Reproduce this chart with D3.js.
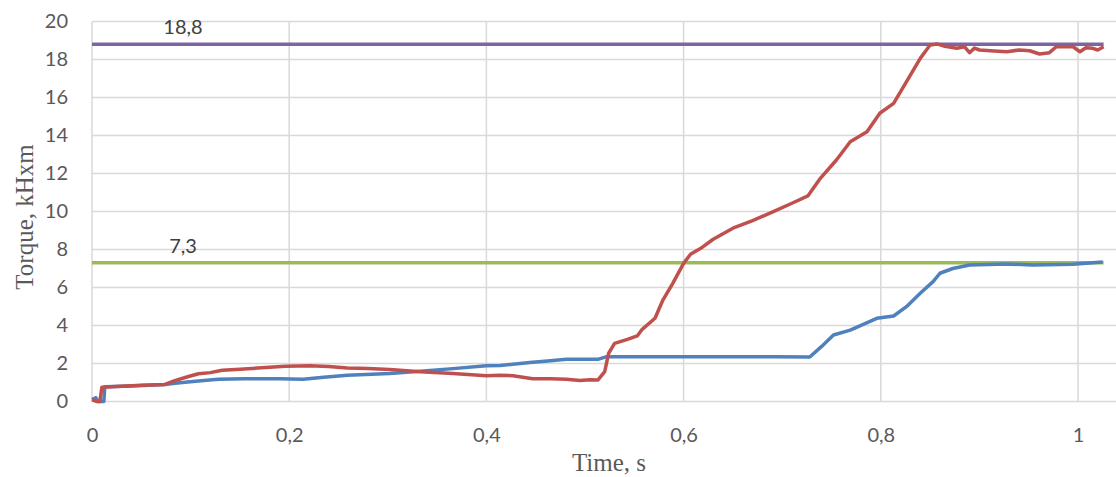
<!DOCTYPE html>
<html>
<head>
<meta charset="utf-8">
<script src="https://cdn.jsdelivr.net/npm/d3@7"></script>
<style>
  body { margin: 0; background: #fff; }
  svg { display: block; }
</style>
</head>
<body>
<div id="chart"></div>
<script>
// values: [time in s, torque]
var redSeries = [
  [0, 0.1], [0.005, 0], [0.008, 0], [0.01, 0.75], [0.03, 0.8], [0.05, 0.85], [0.074, 0.9],
  [0.084, 1.1], [0.097, 1.3], [0.108, 1.46], [0.12, 1.52], [0.132, 1.64], [0.15, 1.7],
  [0.168, 1.76], [0.196, 1.85], [0.221, 1.88], [0.24, 1.84], [0.259, 1.76], [0.28, 1.74],
  [0.302, 1.69], [0.333, 1.57], [0.366, 1.48], [0.4, 1.36], [0.414, 1.38], [0.427, 1.36],
  [0.447, 1.2], [0.465, 1.2], [0.481, 1.17], [0.495, 1.1], [0.505, 1.15], [0.513, 1.13],
  [0.52, 1.57], [0.524, 2.54], [0.53, 3.06], [0.543, 3.27], [0.553, 3.45], [0.558, 3.8],
  [0.571, 4.38], [0.579, 5.34], [0.589, 6.22], [0.6, 7.27], [0.607, 7.75], [0.617, 8.05],
  [0.63, 8.54], [0.65, 9.12], [0.67, 9.52], [0.691, 9.99], [0.711, 10.46], [0.726, 10.82],
  [0.738, 11.7], [0.755, 12.71], [0.769, 13.67], [0.786, 14.2], [0.799, 15.17], [0.813, 15.69],
  [0.819, 16.22], [0.83, 17.18], [0.84, 18.06], [0.85, 18.76], [0.857, 18.82], [0.865, 18.7],
  [0.877, 18.59], [0.885, 18.67], [0.89, 18.36], [0.895, 18.6], [0.9, 18.5], [0.915, 18.45],
  [0.928, 18.41], [0.94, 18.5], [0.951, 18.46], [0.961, 18.29], [0.971, 18.36], [0.978, 18.67],
  [0.995, 18.67], [1.002, 18.41], [1.008, 18.62], [1.015, 18.59], [1.02, 18.5], [1.026, 18.67]
];

var blueSeries = [
  [0, 0.1], [0.004, 0.2], [0.006, 0], [0.012, 0], [0.013, 0.78], [0.04, 0.82], [0.074, 0.9],
  [0.084, 0.96], [0.105, 1.06], [0.128, 1.17], [0.155, 1.2], [0.19, 1.2], [0.214, 1.17],
  [0.235, 1.28], [0.259, 1.38], [0.302, 1.48], [0.333, 1.59], [0.366, 1.73], [0.4, 1.88],
  [0.414, 1.9], [0.444, 2.05], [0.465, 2.15], [0.481, 2.22], [0.513, 2.22], [0.522, 2.36],
  [0.58, 2.36], [0.637, 2.36], [0.69, 2.36], [0.728, 2.34], [0.74, 2.9], [0.752, 3.5],
  [0.769, 3.76], [0.796, 4.38], [0.813, 4.5], [0.826, 4.99], [0.84, 5.7], [0.853, 6.31],
  [0.86, 6.75], [0.873, 7.0], [0.89, 7.18], [0.928, 7.24], [0.954, 7.18], [0.995, 7.22],
  [1.025, 7.34]
];

var refLines = [18.8, 7.3];
var refLabels = ["18,8", "7,3"];
var refColors = ["#8064A2", "#9BBB59"];

var yTicks = [0, 2, 4, 6, 8, 10, 12, 14, 16, 18, 20];
var xTicks = [0, 0.2, 0.4, 0.6, 0.8, 1];

var svgWidth = 1116;
var svgHeight = 477;

var plot = { left: 92, right: 1116, top: 21.5, bottom: 401.5 };

var svg = d3.select("#chart")
  .append("svg")
  .attr("width", svgWidth)
  .attr("height", svgHeight);

// 1.0 s sits at x=1078, plot runs on to the right edge
var xScale = d3.scaleLinear()
  .domain([0, (plot.right - plot.left) / 986])
  .range([plot.left, plot.right]);

var yScale = d3.scaleLinear()
  .domain([0, 20])
  .range([plot.bottom, plot.top]);

var comma = function(v) { return String(v).replace(".", ","); };

// gridlines
svg.append("g")
  .selectAll("line")
  .data(yTicks)
  .enter()
  .append("line")
  .attr("x1", plot.left)
  .attr("x2", plot.right)
  .attr("y1", d => yScale(d))
  .attr("y2", d => yScale(d))
  .attr("stroke", "#d9d9d9")
  .attr("stroke-width", 1.5);

svg.append("g")
  .selectAll("line")
  .data(xTicks)
  .enter()
  .append("line")
  .attr("x1", d => xScale(d))
  .attr("x2", d => xScale(d))
  .attr("y1", plot.top)
  .attr("y2", plot.bottom)
  .attr("stroke", "#d9d9d9")
  .attr("stroke-width", 1.5);

// tick labels
var leftAxis = d3.axisLeft(yScale).tickValues(yTicks).tickSize(0).tickPadding(24);
var bottomAxis = d3.axisBottom(xScale).tickValues(xTicks).tickSize(0).tickPadding(26).tickFormat(comma);

var gy = svg.append("g")
  .attr("transform", `translate(${plot.left}, 0)`)
  .call(leftAxis);
var gx = svg.append("g")
  .attr("transform", `translate(0, ${plot.bottom})`)
  .call(bottomAxis);

[gx, gy].forEach(function(g) {
  g.select(".domain").remove();
  g.selectAll("text")
    .attr("fill", "#595959")
    .style("font-family", "Lato, 'Open Sans', sans-serif")
    .style("font-size", "20px");
});

// reference levels
refLines.forEach(function(v, i) {
  svg.append("line")
    .attr("x1", xScale(0))
    .attr("x2", xScale(1.026))
    .attr("y1", yScale(v))
    .attr("y2", yScale(v))
    .attr("stroke", refColors[i])
    .attr("stroke-width", 3.4);

  svg.append("text")
    .attr("x", 183)
    .attr("y", yScale(v) - 10)
    .attr("text-anchor", "middle")
    .attr("fill", "#404040")
    .style("font-family", "Lato, 'Open Sans', sans-serif")
    .style("font-size", "20px")
    .text(refLabels[i]);
});

// data lines
var line = d3.line()
  .x(d => xScale(d[0]))
  .y(d => yScale(d[1]));

svg.append("path")
  .datum(blueSeries)
  .attr("d", line)
  .attr("fill", "none")
  .attr("stroke", "#4F81BD")
  .attr("stroke-width", 3.5)
  .attr("stroke-linejoin", "round");

svg.append("path")
  .datum(redSeries)
  .attr("d", line)
  .attr("fill", "none")
  .attr("stroke", "#C0504D")
  .attr("stroke-width", 3.5)
  .attr("stroke-linejoin", "round");

// axis titles
svg.append("text")
  .attr("x", 609)
  .attr("y", 471)
  .attr("text-anchor", "middle")
  .attr("fill", "#595959")
  .style("font-family", "'Liberation Serif', serif")
  .style("font-size", "25px")
  .text("Time, s");

svg.append("text")
  .attr("transform", "translate(33, 217) rotate(-90)")
  .attr("text-anchor", "middle")
  .attr("fill", "#595959")
  .style("font-family", "'Liberation Serif', serif")
  .style("font-size", "25px")
  .text("Torque, kHxm");
</script>
</body>
</html>
